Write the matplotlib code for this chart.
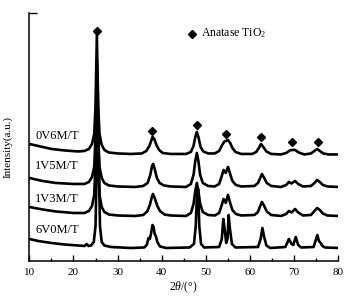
import numpy as np
import matplotlib
matplotlib.use("Agg")
import matplotlib.pyplot as plt

plt.rcParams['font.family'] = ['Liberation Serif', 'DejaVu Serif']
plt.rcParams['mathtext.fontset'] = 'custom'
plt.rcParams['mathtext.rm'] = 'Liberation Serif'
plt.rcParams['mathtext.it'] = 'Liberation Serif:italic'

# traced XRD patterns: 2theta and intensity (a.u., stacked)
x_0v6m = [10, 12, 15, 18, 21, 22.5, 23.5, 24.2, 24.7, 25.0, 25.3, 25.6, 25.9, 26.4, 27.0, 28, 30, 33,
          35.5, 36.5, 37.2, 37.6, 37.9, 38.3, 38.8, 39.4, 40.2, 42, 45.5, 46.6, 47.2, 47.6, 47.95, 48.3,
          48.8, 49.4, 50.5, 52, 53, 53.7, 54.2, 54.6, 55.0, 55.5, 56.0, 56.7, 58, 60.5, 61.4, 62.0, 62.5,
          63.0, 63.7, 64.8, 67, 68.2, 69.0, 69.6, 70.2, 71.0, 72.3, 73.8, 74.6, 75.2, 75.8, 76.6, 77.8, 80]
y_0v6m = [117, 115, 112, 110.5, 109.5, 110, 112, 117, 127, 155, 226, 155, 127, 116, 111, 108.5, 107.5, 107,
          107.5, 110, 115, 120, 124, 122, 116, 111, 108, 107, 107, 109, 115, 124, 129, 124,
          114, 109.5, 107.5, 107.5, 110, 116, 119.5, 120, 121, 118, 113, 109, 107, 107, 109, 113, 117,
          114, 109.5, 107, 106.5, 108, 110.5, 111, 111, 108.5, 106.5, 107.5, 110, 112, 110, 107.5, 106.5, 106.5]

x_1v5m = [10, 13, 16, 20, 22.5, 23.5, 24.2, 24.7, 25.0, 25.3, 25.6, 25.9, 26.4, 27, 28, 30, 34,
          35.8, 36.8, 37.4, 37.8, 38.05, 38.4, 38.9, 39.5, 40.5, 42, 45.5, 46.6, 47.2, 47.6, 47.95, 48.3,
          48.7, 49.3, 50.5, 52, 53, 53.6, 54.0, 54.5, 55.0, 55.5, 56.0, 56.8, 58, 61, 61.8, 62.3, 62.7,
          63.2, 63.8, 64.8, 67, 68.2, 68.8, 69.4, 70.2, 70.9, 72, 73.8, 74.6, 75.2, 75.8, 76.5, 77.5, 80]
y_1v5m = [83, 80, 78, 77, 77, 79, 84, 94, 125, 200, 125, 94, 83, 78, 75.5, 74.5, 74,
          75, 78, 86, 95, 97, 92, 83, 78, 75.5, 74.5, 74, 77, 86, 100, 108, 100,
          86, 78, 75, 74.5, 77, 85, 91, 88, 94, 87, 80, 76, 74.5, 75, 78, 83, 87,
          83, 78, 75, 74, 76, 79, 77.5, 80, 77, 74.5, 75, 78, 81, 79, 76, 74.5, 74]

x_1v3m = [10, 13, 16, 20, 22.5, 23.5, 24.2, 24.7, 25.0, 25.3, 25.6, 25.9, 26.4, 27, 28, 30, 34,
          35.8, 36.7, 37.3, 37.7, 38.0, 38.4, 39.0, 39.6, 40.6, 42, 45.5, 46.6, 47.2, 47.6, 47.95, 48.3,
          48.7, 49.3, 50.5, 52, 53, 53.6, 54.0, 54.5, 55.0, 55.5, 56.0, 56.8, 58, 61, 61.8, 62.3, 62.7,
          63.2, 63.8, 64.8, 67, 68.2, 68.8, 69.4, 70.2, 70.9, 72, 73.8, 74.6, 75.2, 75.8, 76.5, 77.5, 80]
y_1v3m = [54, 51.5, 49.5, 48, 48, 50, 55, 66, 100, 180, 100, 66, 54, 49, 46.5, 45.5, 45,
          46, 49.5, 56, 63, 67, 63, 55, 50, 46.5, 45.5, 45, 48, 57, 70, 78, 70,
          57, 49, 46, 45.5, 48, 56, 62, 58, 66, 58, 51, 47, 45.5, 46, 49, 55, 59,
          55, 49.5, 46, 45, 47, 50, 48.5, 52, 48.5, 45.5, 46, 50, 53, 51, 47.5, 45.5, 45]

x_6v0m = [10, 12, 15, 18, 21, 22.5, 23.0, 23.4, 24.0, 24.6, 25.0, 25.3, 25.5, 25.75, 26.0, 26.4, 27, 28.5, 33,
          36.0, 36.6, 37.0, 37.3, 37.6, 37.9, 38.15, 38.4, 38.65, 39.0, 39.6, 41, 46.3, 47.3, 47.7, 48.0, 48.25,
          48.5, 48.9, 49.6, 53.0, 53.6, 53.95, 54.3, 54.6, 54.9, 55.15, 55.45, 55.9, 56.7, 61.8, 62.4, 62.8,
          63.2, 63.7, 64.6, 68.0, 68.8, 69.4, 69.8, 70.35, 70.9, 71.6, 74.4, 74.9, 75.25, 75.6, 76.0, 76.4,
          77, 80]
y_6v0m = [22, 20, 18, 16.5, 15.5, 15, 17, 15, 15.5, 19, 35, 100, 170, 100, 35, 19, 15.5, 14, 13,
          13.5, 16, 23, 22, 28, 36, 34, 27, 25, 19, 14.5, 13, 13.5, 17, 35, 70, 72,
          35, 17, 13.5, 14, 22, 42, 30, 18, 22, 46, 32, 17, 13.5, 14, 22, 33,
          24, 15.5, 13, 14, 22, 17, 16, 24, 16, 13.5, 14, 21, 26, 20, 18, 15,
          13.5, 13]

series = [("0V6M/T", x_0v6m, y_0v6m), ("1V5M/T", x_1v5m, y_1v5m),
          ("1V3M/T", x_1v3m, y_1v3m), ("6V0M/T", x_6v0m, y_6v0m)]
label_y = [125, 95, 62, 30.5]

# anatase TiO2 reflections marked above the top pattern
mark_x = [25.3, 37.9, 48.0, 54.5, 62.4, 69.6, 75.3]
mark_y = [230, 130, 136, 127, 123.5, 118.5, 118.5]

fig = plt.figure(figsize=(3.47, 3.0), dpi=100)
ax = fig.add_axes([0.0845, 0.13, 0.8905, 0.827])

for (name, xs, ys), ly in zip(series, label_y):
    ax.plot(xs, ys, color='black', lw=1.9, solid_joinstyle='round')
    ax.text(11.3, ly, name, fontsize=9, va='center', ha='left')

ax.plot(mark_x, mark_y, 'D', color='black', markersize=4, ls='none')
ax.plot([46.8], [227], 'D', color='black', markersize=4)
ax.text(48.9, 228, 'Anatase TiO$_2$', fontsize=8.5, va='center', ha='left')

ax.set_xlim(10, 80)
ax.set_ylim(0, 248)
ax.set_xticks(range(10, 81, 10))
ax.set_xticks(range(15, 80, 10), minor=True)
ax.set_yticks([248])
ax.set_yticklabels([])
ax.tick_params(axis='x', which='major', direction='in', length=4, width=1, labelsize=8, pad=5)
ax.tick_params(axis='x', which='minor', direction='in', length=2.5, width=1)
ax.tick_params(axis='y', direction='in', length=6, width=1)
for s in ['top', 'right']:
    ax.spines[s].set_visible(False)
for s in ['left', 'bottom']:
    ax.spines[s].set_linewidth(1.1)

ax.set_xlabel('2$\\it{\\theta}$/(°)', fontsize=8.5, labelpad=2)
ax.set_ylabel('Intensity(a.u.)', fontsize=8)
ax.yaxis.set_label_coords(-0.055, 0.46)

fig.savefig('out.png', dpi=100)
